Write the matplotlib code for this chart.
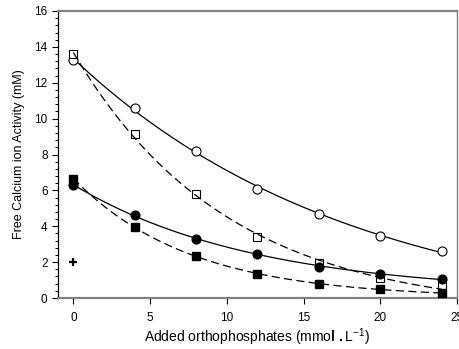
import numpy as np
import matplotlib
matplotlib.use('Agg')
import matplotlib.pyplot as plt
from matplotlib.ticker import MultipleLocator

plt.rcParams['font.family'] = ['Liberation Sans', 'DejaVu Sans']
plt.rcParams['mathtext.fontset'] = 'custom'
plt.rcParams['mathtext.rm'] = 'Liberation Sans'
plt.rcParams['mathtext.bf'] = 'Liberation Sans:bold'

## data
x_po4 = [0, 4, 8, 12, 16, 20, 24]
open_circ = [13.25, 10.59, 8.19, 6.06, 4.67, 3.46, 2.62]
open_sq   = [13.58, 9.14, 5.78, 3.38, 1.93, 1.13, 0.67]
fill_circ = [6.30, 4.60, 3.31, 2.45, 1.75, 1.34, 1.06]
fill_sq   = [6.65, 3.96, 2.32, 1.34, 0.78, 0.48, 0.30]
plus_x = [0]
plus_y = [2.0]


def expfit(x, y):
    ## y = a*exp(-b*x) + c, grid over b, linear solve for a, c
    x = np.asarray(x, float); y = np.asarray(y, float)
    best = None
    for b in np.linspace(0.005, 1.0, 2000):
        A = np.vstack([np.exp(-b*x), np.ones_like(x)]).T
        coef, res, _, _ = np.linalg.lstsq(A, y, rcond=None)
        r = np.sum((A @ coef - y)**2)
        if best is None or r < best[0]:
            best = (r, b, coef)
    _, b, (a, c) = best
    xx = np.linspace(x.min(), x.max(), 200)
    return xx, a*np.exp(-b*xx) + c


fig = plt.figure(figsize=(4.59, 3.49), dpi=100)
ax = fig.add_axes([0.1264, 0.1461, 0.8692, 0.8224])

fontsize = 8.5
lw = 0.9
dash = (0, (6.5, 3.5))

ax.plot(x_po4, open_circ, 'o', ms=6.5, mfc='white', mec='k', mew=0.8, ls='none', zorder=2)
ax.plot(x_po4, open_sq, 's', ms=5.2, mfc='white', mec='k', mew=0.8, ls='none', zorder=2)
ax.plot(x_po4, fill_circ, 'o', ms=6.3, mfc='k', mec='k', ls='none', zorder=4)
ax.plot(x_po4, fill_sq, 's', ms=5.2, mfc='k', mec='k', ls='none', zorder=4)
ax.plot(plus_x, plus_y, '+', ms=6, color='k', mew=1.6, ls='none')

xx, yy = expfit(x_po4, open_circ)
ax.plot(xx, yy, color='k', lw=lw, zorder=1)
xx, yy = expfit(x_po4, open_sq)
ax.plot(xx, yy, color='k', lw=lw, ls=dash, zorder=3)
xx, yy = expfit(x_po4, fill_circ)
ax.plot(xx, yy, color='k', lw=lw, zorder=3)
xx, yy = expfit(x_po4, fill_sq)
ax.plot(xx, yy, color='k', lw=lw, ls=dash, zorder=3)

ax.set_xlim(-1.0, 25)
ax.set_ylim(0, 16)
ax.xaxis.set_major_locator(MultipleLocator(5))
ax.yaxis.set_major_locator(MultipleLocator(2))
ax.yaxis.set_minor_locator(MultipleLocator(0.4))
ax.tick_params(axis='both', which='major', direction='out', length=4, width=0.8,
               labelsize=fontsize, top=False, right=False)
ax.tick_params(axis='y', which='minor', direction='out', length=2.5, width=0.7, right=False)
ax.tick_params(axis='x', pad=6)

ax.spines['left'].set_color('k')
ax.spines['left'].set_linewidth(0.9)
ax.spines['bottom'].set_color('#808080')
ax.spines['bottom'].set_linewidth(1.6)
ax.spines['top'].set_color('#808080')
ax.spines['top'].set_linewidth(1.6)
ax.spines['right'].set_color('#808080')
ax.spines['right'].set_linewidth(1.0)

ax.set_xlabel(r'Added orthophosphates (mmo$\mathbf{l}$ $\mathbf{.}$L$^{-1}$)',
              fontsize=10, labelpad=2)
ax.set_ylabel('Free Calcium ion Activity (mM)', fontsize=9, labelpad=7)

plt.savefig('out.png', dpi=100)
plt.close(fig)
